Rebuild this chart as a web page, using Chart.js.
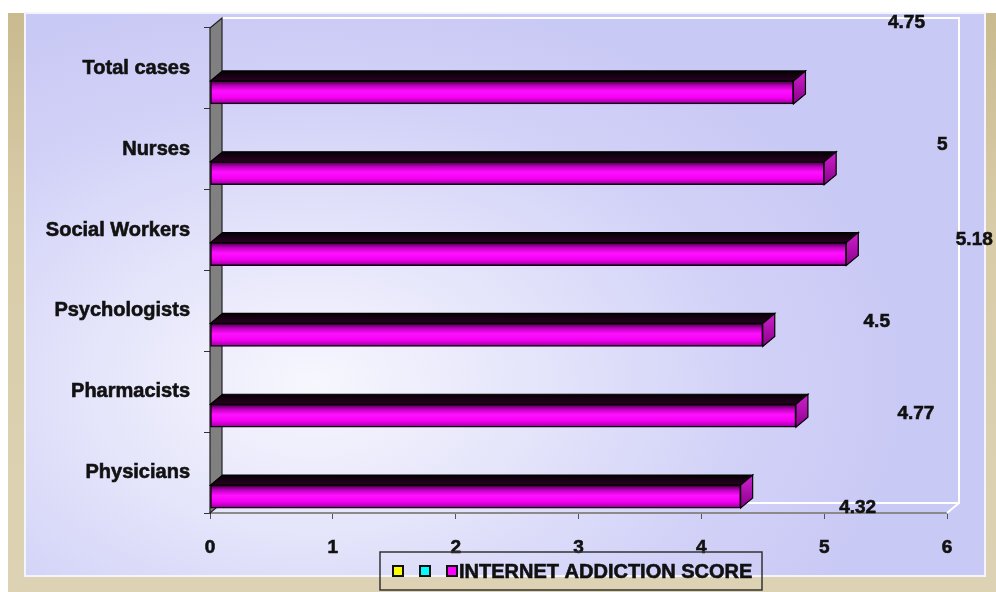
<!DOCTYPE html>
<html>
<head>
<meta charset="utf-8">
<script src="https://cdn.jsdelivr.net/npm/chart.js@4.4.1/dist/chart.umd.min.js"></script>
<style>
  body { margin: 0; background: #fff; }
  #wrap { position: relative; width: 996px; height: 592px; overflow: hidden; }
  #frame { position: absolute; left: 8px; top: 13px; right: 0; bottom: 0;
    background: linear-gradient(180deg, #c9ba8f 0%, #d8cca8 35%, #ddd3b4 100%); }
  #panel { position: absolute; left: 24px; top: 12px; width: 958px; height: 561px;
    border: 2px solid #f4f4fe;
    background: radial-gradient(ellipse 62% 70% at 30% 66%, #f7f7fe 0%, #e6e6fb 35%, #d2d2f8 72%, #c9c9f5 100%); }
  canvas { position: absolute; left: 0; top: 0; }
</style>
</head>
<body>
<div id="wrap">
  <div id="frame"></div>
  <div id="panel"></div>
  <canvas id="myChart" width="996" height="592"></canvas>
</div>
<script>
var categories = ["Total cases", "Nurses", "Social Workers", "Psychologists", "Pharmacists", "Physicians"];
var scores = [4.75, 5, 5.18, 4.5, 4.77, 4.32];
var seriesNames = ["", "", "INTERNET ADDICTION SCORE"];
var xTicks = [0, 1, 2, 3, 4, 5, 6];

var seriesColors = ["#ffff00", "#00ffff", "#ff00ff"];
var FONT = '"Liberation Sans", Arial, sans-serif';
var DX = 12, DY = -10, SHIFT = 24;

// gray side wall + white outline of the back wall
var walls = {
  id: 'walls',
  beforeDatasetsDraw(chart) {
    var ctx = chart.ctx, a = chart.chartArea;
    ctx.save();
    ctx.strokeStyle = '#ffffff';
    ctx.lineWidth = 2;
    ctx.beginPath();
    ctx.moveTo(a.left + DX, a.top + DY);
    ctx.lineTo(a.right + DX, a.top + DY);
    ctx.lineTo(a.right + DX, a.bottom + DY);
    ctx.lineTo(a.left + DX, a.bottom + DY);
    ctx.moveTo(a.right + DX, a.bottom + DY);
    ctx.lineTo(a.right, a.bottom);
    ctx.stroke();

    ctx.beginPath();
    ctx.moveTo(a.left, a.top);
    ctx.lineTo(a.left + DX, a.top + DY);
    ctx.lineTo(a.left + DX, a.bottom + DY);
    ctx.lineTo(a.left, a.bottom);
    ctx.closePath();
    ctx.fillStyle = '#808080';
    ctx.fill();
    ctx.strokeStyle = '#222';
    ctx.lineWidth = 1.2;
    ctx.stroke();
    ctx.restore();
  }
};

// front face shifted down, then top + side faces
var bar3d = {
  id: 'bar3d',
  beforeDatasetDraw(chart) {
    chart.ctx.save();
    chart.ctx.translate(0, SHIFT);
  },
  afterDatasetDraw(chart, args) {
    var ctx = chart.ctx;
    args.meta.data.forEach(function (el) {
      var x0 = el.base, x1 = el.x;
      var yt = el.y - el.height / 2, yb = el.y + el.height / 2;

      var gTop = ctx.createLinearGradient(0, yt + DY, 0, yt);
      gTop.addColorStop(0, '#060005');
      gTop.addColorStop(1, '#280322');
      ctx.beginPath();
      ctx.moveTo(x0, yt);
      ctx.lineTo(x1, yt);
      ctx.lineTo(x1 + DX, yt + DY);
      ctx.lineTo(x0 + DX, yt + DY);
      ctx.closePath();
      ctx.fillStyle = gTop;
      ctx.fill();
      ctx.strokeStyle = '#000';
      ctx.lineWidth = 1.2;
      ctx.stroke();

      var gSide = ctx.createLinearGradient(0, yt + DY, 0, yb);
      gSide.addColorStop(0, '#d020d0');
      gSide.addColorStop(1, '#8a008a');
      ctx.beginPath();
      ctx.moveTo(x1, yt);
      ctx.lineTo(x1 + DX, yt + DY);
      ctx.lineTo(x1 + DX, yb + DY);
      ctx.lineTo(x1, yb);
      ctx.closePath();
      ctx.fillStyle = gSide;
      ctx.fill();
      ctx.stroke();
    });
    ctx.restore();
  }
};

var valueLabels = {
  id: 'valueLabels',
  afterDatasetsDraw(chart, args, opts) {
    var ctx = chart.ctx;
    var meta = chart.getDatasetMeta(2);
    ctx.save();
    ctx.font = 'bold 19px ' + FONT;
    ctx.fillStyle = '#111';
    ctx.strokeStyle = '#111';
    ctx.lineWidth = 0.6;
    ctx.textAlign = 'center';
    ctx.textBaseline = 'middle';
    meta.data.forEach(function (el, i) {
      var x = el.x + opts.dx[i], y = chart.scales.y.getPixelForValue(i) + opts.dy[i];
      ctx.fillText(String(scores[i]), x, y);
      ctx.strokeText(String(scores[i]), x, y);
    });
    ctx.restore();
  }
};

var legendBox = {
  id: 'legendBox',
  afterDraw(chart, args, opts) {
    var ctx = chart.ctx;
    ctx.save();
    ctx.strokeStyle = '#333';
    ctx.lineWidth = 1.5;
    ctx.strokeRect(opts.x, opts.y, opts.w, opts.h);
    var x = opts.x + 13;
    var yc = opts.y + opts.h / 2;
    ctx.font = 'bold 20px ' + FONT;
    ctx.textBaseline = 'middle';
    chart.data.datasets.forEach(function (ds, i) {
      ctx.fillStyle = seriesColors[i];
      ctx.fillRect(x, yc - 5, 10, 10);
      ctx.lineWidth = 2;
      ctx.strokeStyle = '#111';
      ctx.strokeRect(x, yc - 5, 10, 10);
      x += 12;
      if (ds.label) {
        ctx.fillStyle = '#111';
        ctx.lineWidth = 0.6;
        ctx.fillText(ds.label, x, yc + 1);
        ctx.strokeText(ds.label, x, yc + 1);
        x += ctx.measureText(ds.label).width;
      } else {
        x += 15;
      }
    });
    ctx.restore();
  }
};

function frontFill(c) {
  var chart = c.chart;
  if (!chart.chartArea || c.type !== 'data') return seriesColors[2];
  var y = chart.scales.y.getPixelForValue(c.dataIndex);
  var g = chart.ctx.createLinearGradient(0, y - 11.5, 0, y + 11.5);
  g.addColorStop(0, '#3a0038');
  g.addColorStop(0.22, '#c000c0');
  g.addColorStop(0.45, '#ff10ff');
  g.addColorStop(0.72, '#f400f4');
  g.addColorStop(0.92, '#b000b0');
  g.addColorStop(1, '#50004e');
  return g;
}

new Chart("myChart", {
  type: "bar",
  data: {
    labels: categories,
    datasets: [
      { label: seriesNames[0], data: [], backgroundColor: seriesColors[0] },
      { label: seriesNames[1], data: [], backgroundColor: seriesColors[1] },
      { label: seriesNames[2], data: scores, backgroundColor: frontFill,
        borderColor: '#140014', borderWidth: 1.5, borderSkipped: false }
    ]
  },
  options: {
    indexAxis: 'y',
    responsive: false,
    animation: false,
    grouped: false,
    barThickness: 23,
    layout: { padding: { top: 28, right: 49, left: 0, bottom: 0 } },
    scales: {
      x: {
        type: 'linear',
        min: xTicks[0],
        max: xTicks[xTicks.length - 1],
        afterBuildTicks(s) { s.ticks = xTicks.map(function (v) { return { value: v }; }); },
        afterFit(s) { s.height = 79; },
        grid: { drawOnChartArea: false, tickLength: 6, color: '#555' },
        border: { color: '#8a8a8a', width: 2 },
        ticks: { padding: 17, color: '#111', textStrokeColor: '#111', textStrokeWidth: 0.6,
          font: { family: FONT, size: 19, weight: 'bold' } }
      },
      y: {
        afterFit(s) { s.width = 210; },
        grid: { drawOnChartArea: false, tickLength: 6, color: '#333', offset: true },
        border: { color: '#222', width: 1 },
        ticks: { padding: 14, color: '#111', textStrokeColor: '#111', textStrokeWidth: 0.6,
          font: { family: FONT, size: 20, weight: 'bold' } }
      }
    },
    plugins: {
      legend: { display: false },
      tooltip: { enabled: false },
      valueLabels: { dx: [113, 118, 128, 114, 120, 117], dy: [-46, -4, 10, 11, 22, 35] },
      legendBox: { x: 380, y: 552, w: 382, h: 38 }
    }
  },
  plugins: [walls, bar3d, valueLabels, legendBox]
});
</script>
</body>
</html>
